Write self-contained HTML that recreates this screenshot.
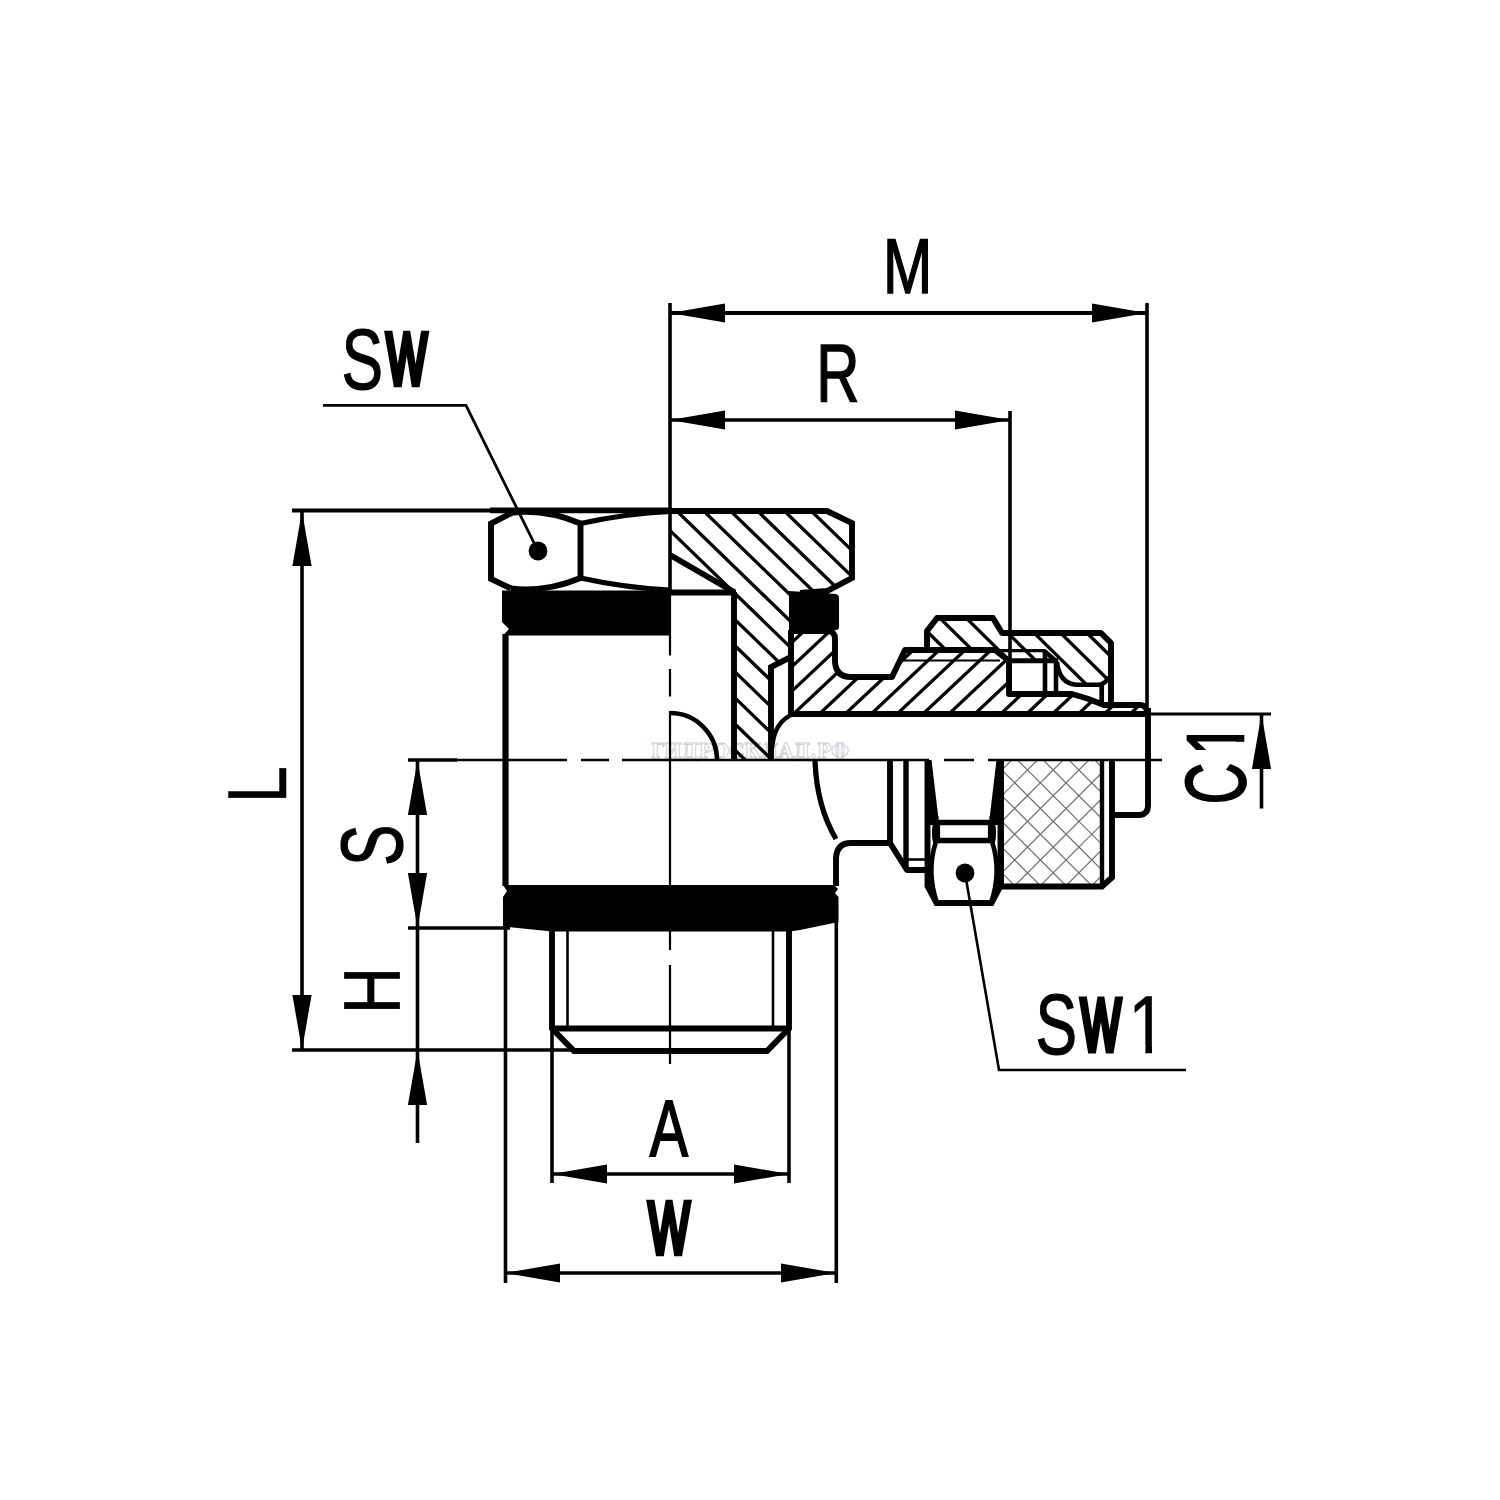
<!DOCTYPE html>
<html lang="ru">
<head>
<meta charset="utf-8">
<title>Banjo fitting dimensional drawing</title>
<style>
html,body{margin:0;padding:0;background:#fff;}
body{width:1500px;height:1500px;overflow:hidden;}
svg{display:block;}
.lbl{font-family:"Liberation Sans",sans-serif;fill:#000;stroke:#000;stroke-linejoin:miter;}
.wm{font-family:"DejaVu Serif","Liberation Serif",serif;font-weight:bold;font-size:21px;fill:#fff;stroke:#cdcdcd;stroke-width:1.0;}
</style>
</head>
<body>
<svg width="1500" height="1500" viewBox="0 0 1500 1500" fill="none" stroke="#000" stroke-linecap="butt">
<rect x="0" y="0" width="1500" height="1500" fill="#fff" stroke="none"/>
<defs>
<clipPath id="cb"><path d="M670,511 L827,511 L852,523 L852,578 L827,591 L791,591 L791,657 L771,667 L771,760 L734,760 L734,592 L670,555 Z"/></clipPath>
<clipPath id="cj"><path d="M791,631 L829,631 Q835,632 835,639 L835,662 Q836,677 851,677 L892,677 L905,650 L995,650 L1009,661 L1009,694 L1072,694 Q1088,698 1104,705 L1141,705 Q1147,706 1147,714 L791,714 Z"/></clipPath>
<clipPath id="cn"><path d="M927,650 L927,631 L937,618 L993,618 L1002,633 L1101,633 L1111,643 L1111,677 Q1106,684 1100,684.7 L1076,684.7 Q1059,683 1057,662 L1056,661 L1008,661 L994,650 Z"/></clipPath>
<clipPath id="ck"><rect x="1002" y="760" width="98" height="126"/></clipPath>
</defs>
<text x="651" y="757.8" class="wm" textLength="198" lengthAdjust="spacingAndGlyphs">ГИДРОСКЛАД.РФ</text>
<g clip-path="url(#cb)" stroke-width="3.3">
<line x1="320.9" y1="505" x2="589.0" y2="765"/>
<line x1="347.8" y1="505" x2="615.9" y2="765"/>
<line x1="374.7" y1="505" x2="642.8" y2="765"/>
<line x1="401.6" y1="505" x2="669.7" y2="765"/>
<line x1="428.5" y1="505" x2="696.6" y2="765"/>
<line x1="455.4" y1="505" x2="723.5" y2="765"/>
<line x1="482.3" y1="505" x2="750.4" y2="765"/>
<line x1="509.2" y1="505" x2="777.3" y2="765"/>
<line x1="536.1" y1="505" x2="804.2" y2="765"/>
<line x1="563.0" y1="505" x2="831.1" y2="765"/>
<line x1="589.9" y1="505" x2="858.0" y2="765"/>
<line x1="616.8" y1="505" x2="884.9" y2="765"/>
<line x1="643.7" y1="505" x2="911.8" y2="765"/>
<line x1="670.6" y1="505" x2="938.7" y2="765"/>
<line x1="697.5" y1="505" x2="965.6" y2="765"/>
<line x1="724.4" y1="505" x2="992.5" y2="765"/>
<line x1="751.3" y1="505" x2="1019.4" y2="765"/>
<line x1="778.2" y1="505" x2="1046.3" y2="765"/>
<line x1="805.1" y1="505" x2="1073.2" y2="765"/>
<line x1="832.0" y1="505" x2="1100.1" y2="765"/>
<line x1="858.9" y1="505" x2="1127.0" y2="765"/>
<line x1="885.8" y1="505" x2="1153.9" y2="765"/>
<line x1="912.7" y1="505" x2="1180.8" y2="765"/>
<line x1="939.6" y1="505" x2="1207.7" y2="765"/>
<line x1="966.5" y1="505" x2="1234.6" y2="765"/>
<line x1="993.4" y1="505" x2="1261.5" y2="765"/>
<line x1="1020.3" y1="505" x2="1288.4" y2="765"/>
<line x1="1047.2" y1="505" x2="1315.3" y2="765"/>
<line x1="1074.1" y1="505" x2="1342.2" y2="765"/>
<line x1="1101.0" y1="505" x2="1369.1" y2="765"/>
<line x1="1127.9" y1="505" x2="1396.0" y2="765"/>
<line x1="1154.8" y1="505" x2="1422.9" y2="765"/>
<line x1="1181.7" y1="505" x2="1449.8" y2="765"/>
</g>
<g clip-path="url(#cj)" stroke-width="3.3">
<line x1="706.8" y1="625" x2="610.0" y2="716"/>
<line x1="732.7" y1="625" x2="635.9" y2="716"/>
<line x1="758.6" y1="625" x2="661.8" y2="716"/>
<line x1="784.5" y1="625" x2="687.7" y2="716"/>
<line x1="810.4" y1="625" x2="713.6" y2="716"/>
<line x1="836.3" y1="625" x2="739.5" y2="716"/>
<line x1="862.2" y1="625" x2="765.4" y2="716"/>
<line x1="888.1" y1="625" x2="791.3" y2="716"/>
<line x1="914.0" y1="625" x2="817.2" y2="716"/>
<line x1="939.9" y1="625" x2="843.1" y2="716"/>
<line x1="965.8" y1="625" x2="869.0" y2="716"/>
<line x1="991.7" y1="625" x2="894.9" y2="716"/>
<line x1="1017.6" y1="625" x2="920.8" y2="716"/>
<line x1="1043.5" y1="625" x2="946.7" y2="716"/>
<line x1="1069.4" y1="625" x2="972.6" y2="716"/>
<line x1="1095.3" y1="625" x2="998.5" y2="716"/>
<line x1="1121.2" y1="625" x2="1024.4" y2="716"/>
<line x1="1147.1" y1="625" x2="1050.3" y2="716"/>
<line x1="1173.0" y1="625" x2="1076.2" y2="716"/>
<line x1="1198.9" y1="625" x2="1102.1" y2="716"/>
<line x1="1224.8" y1="625" x2="1128.0" y2="716"/>
<line x1="1250.7" y1="625" x2="1153.9" y2="716"/>
<line x1="1276.6" y1="625" x2="1179.8" y2="716"/>
<line x1="1302.5" y1="625" x2="1205.7" y2="716"/>
<line x1="1328.4" y1="625" x2="1231.6" y2="716"/>
<line x1="1354.3" y1="625" x2="1257.5" y2="716"/>
<line x1="1380.2" y1="625" x2="1283.4" y2="716"/>
<line x1="1406.1" y1="625" x2="1309.3" y2="716"/>
</g>
<g clip-path="url(#cn)" stroke-width="3.3">
<line x1="722.5" y1="612" x2="819.9" y2="708"/>
<line x1="748.9" y1="612" x2="846.3" y2="708"/>
<line x1="775.3" y1="612" x2="872.7" y2="708"/>
<line x1="801.7" y1="612" x2="899.1" y2="708"/>
<line x1="828.1" y1="612" x2="925.5" y2="708"/>
<line x1="854.5" y1="612" x2="951.9" y2="708"/>
<line x1="880.9" y1="612" x2="978.3" y2="708"/>
<line x1="907.3" y1="612" x2="1004.7" y2="708"/>
<line x1="933.7" y1="612" x2="1031.1" y2="708"/>
<line x1="960.1" y1="612" x2="1057.5" y2="708"/>
<line x1="986.5" y1="612" x2="1083.9" y2="708"/>
<line x1="1012.9" y1="612" x2="1110.3" y2="708"/>
<line x1="1039.3" y1="612" x2="1136.7" y2="708"/>
<line x1="1065.7" y1="612" x2="1163.1" y2="708"/>
<line x1="1092.1" y1="612" x2="1189.5" y2="708"/>
<line x1="1118.5" y1="612" x2="1215.9" y2="708"/>
<line x1="1144.9" y1="612" x2="1242.3" y2="708"/>
<line x1="1171.3" y1="612" x2="1268.7" y2="708"/>
<line x1="1197.7" y1="612" x2="1295.1" y2="708"/>
<line x1="1224.1" y1="612" x2="1321.5" y2="708"/>
<line x1="1250.5" y1="612" x2="1347.9" y2="708"/>
</g>
<g clip-path="url(#ck)" stroke="#6e6e6e" stroke-width="1.2">
<line x1="806.9" y1="755" x2="941.9" y2="890"/>
<line x1="836.9" y1="755" x2="701.9" y2="890"/>
<line x1="832.6" y1="755" x2="967.6" y2="890"/>
<line x1="862.6" y1="755" x2="727.6" y2="890"/>
<line x1="858.3" y1="755" x2="993.3" y2="890"/>
<line x1="888.3" y1="755" x2="753.3" y2="890"/>
<line x1="884.0" y1="755" x2="1019.0" y2="890"/>
<line x1="914.0" y1="755" x2="779.0" y2="890"/>
<line x1="909.7" y1="755" x2="1044.7" y2="890"/>
<line x1="939.7" y1="755" x2="804.7" y2="890"/>
<line x1="935.4" y1="755" x2="1070.4" y2="890"/>
<line x1="965.4" y1="755" x2="830.4" y2="890"/>
<line x1="961.1" y1="755" x2="1096.1" y2="890"/>
<line x1="991.1" y1="755" x2="856.1" y2="890"/>
<line x1="986.8" y1="755" x2="1121.8" y2="890"/>
<line x1="1016.8" y1="755" x2="881.8" y2="890"/>
<line x1="1012.5" y1="755" x2="1147.5" y2="890"/>
<line x1="1042.5" y1="755" x2="907.5" y2="890"/>
<line x1="1038.2" y1="755" x2="1173.2" y2="890"/>
<line x1="1068.2" y1="755" x2="933.2" y2="890"/>
<line x1="1063.9" y1="755" x2="1198.9" y2="890"/>
<line x1="1093.9" y1="755" x2="958.9" y2="890"/>
<line x1="1089.6" y1="755" x2="1224.6" y2="890"/>
<line x1="1119.6" y1="755" x2="984.6" y2="890"/>
<line x1="1115.3" y1="755" x2="1250.3" y2="890"/>
<line x1="1145.3" y1="755" x2="1010.3" y2="890"/>
<line x1="1141.0" y1="755" x2="1276.0" y2="890"/>
<line x1="1171.0" y1="755" x2="1036.0" y2="890"/>
<line x1="1166.7" y1="755" x2="1301.7" y2="890"/>
<line x1="1196.7" y1="755" x2="1061.7" y2="890"/>
<line x1="1192.4" y1="755" x2="1327.4" y2="890"/>
<line x1="1222.4" y1="755" x2="1087.4" y2="890"/>
<line x1="1218.1" y1="755" x2="1353.1" y2="890"/>
<line x1="1248.1" y1="755" x2="1113.1" y2="890"/>
</g>
<path d="M502,590.5 L670,590.5 L670,635.5 L503,635.5 L509,629 L502,622 Z" fill="#000" stroke="none"/>
<path d="M789,591 L836,594 Q839,595 839,598 L839,627 Q839,630 836,630 L789,632 Z" fill="#000" stroke="none"/>
<path d="M503,885 L834,885 L838,889 L835,893 L838.5,897 L838.5,922 L800,930 L790,931.5 L552,931.5 L503,926.5 L503,897 L507,891 Z" fill="#000" stroke="none"/>
<path d="M513.5,512 L491,523.5 L491,579 L511,588.5" fill="none" stroke-width="5.9" />
<path d="M513.5,512.5 Q546,509 580.5,523.5 L580.5,578 Q546,592.5 511,588.5" fill="none" stroke-width="5.9" />
<path d="M580.5,523.5 Q626,513.5 670,511.5" fill="none" stroke-width="5.0" />
<path d="M580.5,578 Q626,588 670,590" fill="none" stroke-width="5.0" />
<path d="M670,511 L827,511 L852,523 L852,578 L827,591 L800,593" fill="none" stroke-width="5.9" stroke-linejoin="miter"/>
<line x1="734" y1="592" x2="734" y2="760" stroke-width="5.9" />
<line x1="670" y1="592.5" x2="736" y2="592.5" stroke-width="5.9" />
<line x1="670" y1="555" x2="734" y2="592" stroke-width="5.9" />
<path d="M791,630 L791,657 L771,667 L771,760" fill="none" stroke-width="5.9" />
<line x1="791" y1="630" x2="791" y2="714" stroke-width="5.9" />
<path d="M670,713 A47,47 0 0 1 717,760" fill="none" stroke-width="4.6" />
<path d="M791,631 L829,631 Q835,632 835,639 L835,662 Q836,677 851,677 L892,677 L905,650 L995,650 L1009,661 L1009,694 L1072,694 Q1088,698 1104,705 L1141,705 Q1147,706 1147.5,713" fill="none" stroke-width="5.9" stroke-linejoin="round"/>
<line x1="791" y1="714" x2="1150" y2="714" stroke-width="5.9" />
<path d="M793,714 Q774,722 772,748" fill="none" stroke-width="4.6" />
<line x1="898" y1="660.5" x2="1000" y2="660.5" stroke-width="2.0" />
<path d="M927,650 L927,631 L937,618 L993,618 L1002,633 L1101,633 L1111,643 L1111,705" fill="none" stroke-width="5.9" stroke-linejoin="round"/>
<line x1="993" y1="650.7" x2="1045" y2="650.7" stroke-width="3.2" />
<path d="M1044,650.7 L1056,661 L1056,694" fill="none" stroke-width="4.6" />
<line x1="1045" y1="651" x2="1045" y2="694" stroke-width="4.6" />
<line x1="1009" y1="660.7" x2="1058" y2="660.7" stroke-width="5.0" />
<path d="M1057,662 Q1059,683 1076,684.7 L1100,684.7 Q1106,683 1109,677" fill="none" stroke-width="4.6" />
<line x1="1101.7" y1="685" x2="1101.7" y2="705" stroke-width="4.7" />
<line x1="505.5" y1="634" x2="505.5" y2="886" stroke-width="6.2" />
<path d="M836,886 L836,858 Q837,843 851,843 L890,843 L907,870 L928,870" fill="none" stroke-width="5.9" stroke-linejoin="round"/>
<line x1="890" y1="760" x2="890" y2="843" stroke-width="5.9" />
<line x1="906" y1="760" x2="906" y2="868" stroke-width="5.4" />
<line x1="906" y1="859.5" x2="928" y2="859.5" stroke-width="2.6" />
<path d="M815,760 Q816.5,806 836,839" fill="none" stroke-width="5.3" />
<path d="M927.5,760 L927.5,886 L936.5,903 L991.5,903 L1000.5,886 L1000.5,760" fill="none" stroke-width="5.9" stroke-linejoin="miter"/>
<polygon points="927,760 931.5,760 938.5,819 938.5,825 927,825" fill="#000" stroke="none"/>
<polygon points="1001,760 996.5,760 989.5,819 989.5,825 1001,825" fill="#000" stroke="none"/>
<line x1="936" y1="822.5" x2="992" y2="822.5" stroke-width="5.6" />
<line x1="934" y1="840.5" x2="994" y2="840.5" stroke-width="5.6" />
<line x1="938" y1="822" x2="938" y2="841" stroke-width="4.2" />
<line x1="990" y1="822" x2="990" y2="841" stroke-width="4.2" />
<path d="M936.5,816 Q932.5,832 935.5,843 Q926.5,872 937,903" fill="none" stroke-width="4.6" />
<path d="M991.5,816 Q995.5,832 992.5,843 Q1001.5,872 991,903" fill="none" stroke-width="4.6" />
<line x1="1001" y1="760" x2="1001" y2="886" stroke-width="5.9" />
<path d="M1001,886.5 L1102,886.5 L1112,877.5 L1112,760" fill="none" stroke-width="5.9" stroke-linejoin="miter"/>
<line x1="1102" y1="760" x2="1102" y2="886" stroke-width="4.4" />
<path d="M1112,815 L1140,815 Q1148,814 1148,806 L1148,708" fill="none" stroke-width="5.9" />
<path d="M552,928 L552,1028.5 L574,1051 L767,1051 L789,1028.5 L789,928" fill="none" stroke-width="5.9" stroke-linejoin="miter"/>
<line x1="552" y1="1028.5" x2="789" y2="1028.5" stroke-width="5.9" />
<line x1="567.5" y1="930" x2="567.5" y2="1028" stroke-width="2.6" />
<line x1="773" y1="930" x2="773" y2="1028" stroke-width="2.6" />
<line x1="670" y1="303" x2="670" y2="592" stroke-width="3.6" />
<path d="M670,592 L670,655.5 M670,669 L670,696.5 M670,711 L670,950 M670,965 L670,1064" stroke-width="2.2" fill="none"/>
<line x1="408" y1="760" x2="457" y2="760" stroke-width="3.3" />
<path d="M456,760 L567,760 M581,760 L609,760 M622,760 L929,760 M944,760 L974,760 M988,760 L1162,760" stroke-width="2.3" fill="none"/>
<line x1="670" y1="313" x2="1147" y2="313" stroke-width="3.8" />
<polygon points="670,313 725.0,303.4 725.0,322.6" fill="#000" stroke="none"/>
<polygon points="1147,313 1092.0,322.6 1092.0,303.4" fill="#000" stroke="none"/>
<line x1="1147" y1="303" x2="1147" y2="708" stroke-width="3.6" />
<line x1="670" y1="420" x2="1010" y2="420" stroke-width="3.6" />
<polygon points="670,420 725.0,410.4 725.0,429.6" fill="#000" stroke="none"/>
<polygon points="1010,420 955.0,429.6 955.0,410.4" fill="#000" stroke="none"/>
<line x1="1010" y1="411" x2="1010" y2="694" stroke-width="3.6" />
<line x1="292" y1="510.5" x2="492" y2="510.5" stroke-width="4.0" />
<line x1="490" y1="510.4" x2="670" y2="510.4" stroke-width="5.9" />
<line x1="302" y1="511" x2="302" y2="1050" stroke-width="3.6" />
<polygon points="302,511 311.6,566.0 292.4,566.0" fill="#000" stroke="none"/>
<polygon points="302,1050 292.4,995.0 311.6,995.0" fill="#000" stroke="none"/>
<line x1="292" y1="1050" x2="573" y2="1050" stroke-width="3.6" />
<line x1="417.5" y1="760" x2="417.5" y2="1143" stroke-width="3.6" />
<polygon points="417.5,760 427.1,815.0 407.9,815.0" fill="#000" stroke="none"/>
<polygon points="417.5,928 407.9,873.0 427.1,873.0" fill="#000" stroke="none"/>
<polygon points="417.5,1050 427.1,1105.0 407.9,1105.0" fill="#000" stroke="none"/>
<line x1="408" y1="928" x2="510" y2="928" stroke-width="3.6" />
<line x1="552" y1="1028" x2="552" y2="1183" stroke-width="3.6" />
<line x1="789" y1="1028" x2="789" y2="1183" stroke-width="3.6" />
<line x1="552" y1="1174" x2="789" y2="1174" stroke-width="3.7" />
<polygon points="552,1174 607.0,1164.4 607.0,1183.6" fill="#000" stroke="none"/>
<polygon points="789,1174 734.0,1183.6 734.0,1164.4" fill="#000" stroke="none"/>
<line x1="505.5" y1="928" x2="505.5" y2="1283" stroke-width="3.6" />
<line x1="836.3" y1="922" x2="836.3" y2="1283" stroke-width="3.6" />
<line x1="505" y1="1273" x2="836" y2="1273" stroke-width="3.6" />
<polygon points="505,1273 560.0,1263.4 560.0,1282.6" fill="#000" stroke="none"/>
<polygon points="836,1273 781.0,1282.6 781.0,1263.4" fill="#000" stroke="none"/>
<line x1="1147" y1="714" x2="1271" y2="714" stroke-width="3.0" />
<line x1="1261.5" y1="714" x2="1261.5" y2="808.5" stroke-width="3.6" />
<polygon points="1261.5,714 1271.1,769.0 1251.9,769.0" fill="#000" stroke="none"/>
<path d="M323,405.3 L466,405.3 L538,551" fill="none" stroke-width="2.8" />
<circle cx="538" cy="551" r="9.4" fill="#000" stroke="none"/>
<path d="M965,873 L999,1070 L1186,1070" fill="none" stroke-width="2.6" />
<circle cx="965" cy="873" r="9.4" fill="#000" stroke="none"/>
<text class="lbl" aria-label="M"><tspan x="883.04" y="293.23" font-size="78.43" stroke-width="1.54" textLength="49.23" lengthAdjust="spacingAndGlyphs">M</tspan></text>
<text class="lbl" aria-label="R"><tspan x="816.34" y="401.26" font-size="80.71" stroke-width="1.47" textLength="43.23" lengthAdjust="spacingAndGlyphs">R</tspan></text>
<text class="lbl" aria-label="SW"><tspan x="341.57" y="389.05" font-size="85.33" stroke-width="1.19" textLength="41.57" lengthAdjust="spacingAndGlyphs">S</tspan><tspan x="386.47" y="384.15" font-size="72.39" stroke-width="6.69" textLength="40.43" lengthAdjust="spacingAndGlyphs">W</tspan></text>
<clipPath id="ct1"><rect x="1036.00" y="969.02" width="40.70" height="106.66"/><rect x="1077.30" y="977.45" width="47.40" height="90.13"/><rect x="1132.70" y="971.38" width="21.30" height="73.80"/><rect x="1145.41" y="1044.67" width="6.59" height="9.33"/></clipPath>
<text class="lbl" aria-label="SW1" clip-path="url(#ct1)"><tspan x="1035.57" y="1054.35" font-size="85.33" stroke-width="1.19" textLength="41.57" lengthAdjust="spacingAndGlyphs">S</tspan><tspan x="1081.10" y="1049.55" font-size="72.10" stroke-width="6.89" textLength="39.75" lengthAdjust="spacingAndGlyphs">W</tspan><tspan x="1128.29" y="1052.74" font-size="81.36" stroke-width="0.52" textLength="38.41" lengthAdjust="spacingAndGlyphs">1</tspan></text>
<text class="lbl" aria-label="A"><tspan x="649.84" y="1156.08" font-size="80.18" stroke-width="1.84" textLength="38.31" lengthAdjust="spacingAndGlyphs">A</tspan></text>
<text class="lbl" aria-label="W"><tspan x="648.43" y="1252.78" font-size="72.03" stroke-width="6.44" textLength="41.10" lengthAdjust="spacingAndGlyphs">W</tspan></text>
<g transform="translate(286.4,0) rotate(-90)"><text class="lbl" aria-label="L"><tspan x="-803.28" y="-0.27" font-size="83.52" stroke-width="0.54" textLength="37.28" lengthAdjust="spacingAndGlyphs">L</tspan></text></g>
<g transform="translate(403,0) rotate(-90)"><text class="lbl" aria-label="S"><tspan x="-866.01" y="-1.48" font-size="86.53" stroke-width="1.23" textLength="41.43" lengthAdjust="spacingAndGlyphs">S</tspan></text></g>
<g transform="translate(399,0) rotate(-90)"><text class="lbl" aria-label="H"><tspan x="-1014.03" y="-0.37" font-size="78.87" stroke-width="0.74" textLength="47.00" lengthAdjust="spacingAndGlyphs">H</tspan></text></g>
<clipPath id="ct2"><rect x="-804.00" y="-84.63" width="41.70" height="106.39"/><rect x="-752.00" y="-81.70" width="19.00" height="71.74"/><rect x="-741.64" y="-10.46" width="6.64" height="11.46"/></clipPath>
<g transform="translate(1244.5,0) rotate(-90)"><text class="lbl" aria-label="C1" clip-path="url(#ct2)"><tspan x="-804.28" y="0.48" font-size="85.11" stroke-width="1.94" textLength="41.50" lengthAdjust="spacingAndGlyphs">C</tspan><tspan x="-754.26" y="-1.37" font-size="80.33" stroke-width="2.73" textLength="30.00" lengthAdjust="spacingAndGlyphs">1</tspan></text></g>
</svg>
</body>
</html>
